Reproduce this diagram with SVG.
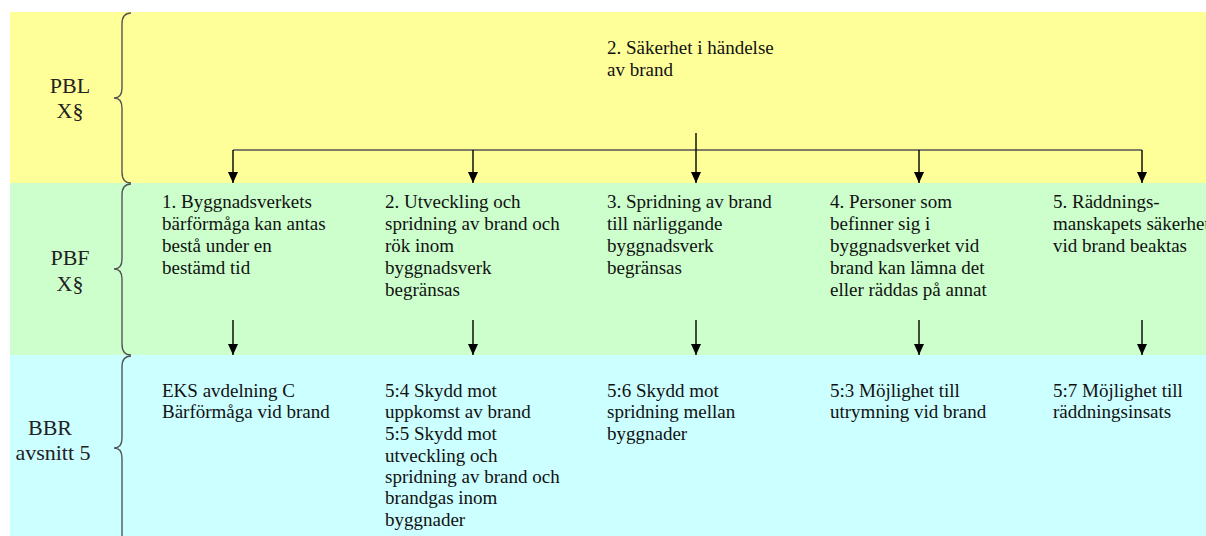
<svg xmlns="http://www.w3.org/2000/svg" width="1206" height="536" viewBox="0 0 1206 536">
<defs>
<style>
.t{font-size:19px;fill:#111}
.lab{font-size:22px;fill:#222;text-anchor:middle}
.brace{fill:none;stroke:#555;stroke-width:1.4}
.ln{fill:none;stroke:#000;stroke-width:1.4}
.hl{fill:none;stroke:#555;stroke-width:1.5}
</style>
<marker id="ah" markerWidth="11" markerHeight="10" refX="11" refY="5" orient="auto" markerUnits="userSpaceOnUse" viewBox="0 0 11 10">
<path d="M0,0 L11,5 L0,10 z" fill="#000"/>
</marker>
</defs>
<rect width="1206" height="536" fill="#fff"/>
<g id="bands">
<rect x="10" y="12" width="1196" height="171" fill="#FFFF99"/>
<rect x="10" y="183" width="1196" height="172" fill="#CCFFCC"/>
<rect x="10" y="355" width="1196" height="181" fill="#CCFFFF"/>
</g>
<g id="braces">
<path class="brace" d="M131,13 Q122,13 122,24 L122,88 Q122,98 114,98 Q122,98 122,108 L122,172 Q122,183 131,183"/>
<path class="brace" d="M131,184 Q122,184 122,195 L122,259 Q122,269 114,269 Q122,269 122,279 L122,344 Q122,355 131,355"/>
<path class="brace" d="M131,356 Q122,356 122,367 L122,438 Q122,448 114,448 Q122,448 122,458 L122,545"/>
</g>
<g font-family="Liberation Serif, DejaVu Serif, serif">
<g id="label-pbl"><text class="lab" x="70" y="93">PBL</text><text class="lab" x="70" y="118">X§</text></g>
<g id="label-pbf"><text class="lab" x="70" y="265">PBF</text><text class="lab" x="70" y="291">X§</text></g>
<g id="label-bbr"><text class="lab" x="50" y="435">BBR</text><text class="lab" x="53" y="460">avsnitt 5</text></g>
<g id="node-top"><text class="t" x="607" y="54">2. Säkerhet i händelse</text><text class="t" x="607" y="76">av brand</text></g>
<g id="node-pbf1"><text class="t" x="162" y="208">1. Byggnadsverkets</text><text class="t" x="162" y="230">bärförmåga kan antas</text><text class="t" x="162" y="252">bestå under en</text><text class="t" x="162" y="274">bestämd tid</text></g>
<g id="node-pbf2"><text class="t" x="385" y="208">2. Utveckling och</text><text class="t" x="385" y="230">spridning av brand och</text><text class="t" x="385" y="252">rök inom</text><text class="t" x="385" y="274">byggnadsverk</text><text class="t" x="385" y="296">begränsas</text></g>
<g id="node-pbf3"><text class="t" x="607" y="208">3. Spridning av brand</text><text class="t" x="607" y="230">till närliggande</text><text class="t" x="607" y="252">byggnadsverk</text><text class="t" x="607" y="274">begränsas</text></g>
<g id="node-pbf4"><text class="t" x="830" y="208">4. Personer som</text><text class="t" x="830" y="230">befinner sig i</text><text class="t" x="830" y="252">byggnadsverket vid</text><text class="t" x="830" y="274">brand kan lämna det</text><text class="t" x="830" y="296">eller räddas på annat</text></g>
<g id="node-pbf5"><text class="t" x="1053" y="208">5. Räddnings-</text><text class="t" x="1053" y="230">manskapets säkerhet</text><text class="t" x="1053" y="252">vid brand beaktas</text></g>
<g id="node-bbr1"><text class="t" x="162" y="397">EKS avdelning C</text><text class="t" x="162" y="418">Bärförmåga vid brand</text></g>
<g id="node-bbr2"><text class="t" x="385" y="397">5:4 Skydd mot</text><text class="t" x="385" y="418">uppkomst av brand</text><text class="t" x="385" y="440">5:5 Skydd mot</text><text class="t" x="385" y="462">utveckling och</text><text class="t" x="385" y="483">spridning av brand och</text><text class="t" x="385" y="504">brandgas inom</text><text class="t" x="385" y="526">byggnader</text></g>
<g id="node-bbr3"><text class="t" x="607" y="397">5:6 Skydd mot</text><text class="t" x="607" y="418">spridning mellan</text><text class="t" x="607" y="440">byggnader</text></g>
<g id="node-bbr4"><text class="t" x="830" y="397">5:3 Möjlighet till</text><text class="t" x="830" y="418">utrymning vid brand</text></g>
<g id="node-bbr5"><text class="t" x="1053" y="397">5:7 Möjlighet till</text><text class="t" x="1053" y="418">räddningsinsats</text></g>
</g>
<g id="connectors">
<path class="hl" d="M233,150 L1142,150"/>
<path class="ln" d="M696,133 L696,183" marker-end="url(#ah)"/>
<path class="ln" d="M233,150 L233,183" marker-end="url(#ah)"/>
<path class="ln" d="M473,150 L473,183" marker-end="url(#ah)"/>
<path class="ln" d="M919,150 L919,183" marker-end="url(#ah)"/>
<path class="ln" d="M1142,150 L1142,183" marker-end="url(#ah)"/>
<path class="ln" d="M233,320 L233,355" marker-end="url(#ah)"/>
<path class="ln" d="M473,320 L473,355" marker-end="url(#ah)"/>
<path class="ln" d="M696,320 L696,355" marker-end="url(#ah)"/>
<path class="ln" d="M919,320 L919,355" marker-end="url(#ah)"/>
<path class="ln" d="M1142,320 L1142,355" marker-end="url(#ah)"/>
</g>
</svg>
